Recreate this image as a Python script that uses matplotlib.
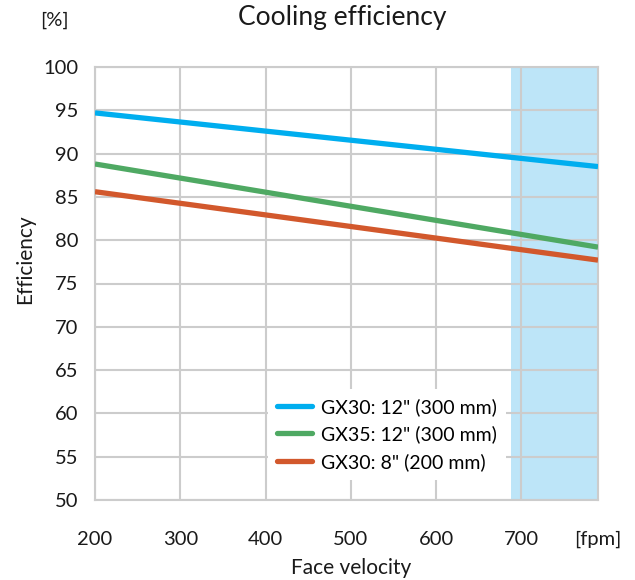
import matplotlib
matplotlib.use("Agg")
import matplotlib.pyplot as plt

# Data
x_vals = [200, 790]
gx30_12 = [94.7, 88.5]
gx35_12 = [88.8, 79.2]
gx30_8 = [85.6, 77.7]
series_labels = ['GX30: 12" (300 mm)', 'GX35: 12" (300 mm)', 'GX30: 8" (200 mm)']
colors = ['#00AEEF', '#4FA963', '#D2582C']
x_ticks = [200, 300, 400, 500, 600, 700]
y_ticks = [50, 55, 60, 65, 70, 75, 80, 85, 90, 95, 100]
shade_range = [688, 790]

plt.rcParams['font.family'] = ['Lato', 'DejaVu Sans']
TXT = '#1a1a1a'

fig = plt.figure(figsize=(6.35, 5.8), dpi=100)
ax = fig.add_axes([95/635, 1-500/580, (598-95)/635, (500-67)/580])

ax.axvspan(shade_range[0], shade_range[1], color='#BDE5F8', zorder=0, lw=0)

for ys, lab, c in zip([gx30_12, gx35_12, gx30_8], series_labels, colors):
    ax.plot(x_vals, ys, color=c, lw=3.8, label=lab, solid_capstyle='butt', zorder=3)

ax.set_xlim(200, 790)
ax.set_ylim(50, 100)
ax.set_xticks(x_ticks + [790])
ax.set_xticklabels([str(t) for t in x_ticks] + ['[fpm]'])
ax.set_yticks(y_ticks)
ax.grid(True, color='#CCCCCC', lw=1.5, zorder=1)
ax.set_axisbelow(True)
ax.get_xgridlines()[-1].set_visible(False)

for s in ax.spines.values():
    s.set_color('#CCCCCC')
    s.set_linewidth(1.5)

ax.tick_params(axis='both', length=0, labelsize=14.5, colors=TXT)
ax.tick_params(axis='x', pad=22)
ax.tick_params(axis='y', pad=12)

fig.text(351/635, 1-568/580, 'Face velocity', fontsize=15, ha='center', va='center', color=TXT)
fig.text(25/635, 1-259/580, 'Efficiency', fontsize=15, ha='center', va='center',
         rotation=90, color=TXT)
fig.text(342/635, 1-18/580, 'Cooling efficiency', fontsize=19, ha='center', va='center', color=TXT)
fig.text(54/635, 1-20/580, '[%]', fontsize=14.5, ha='center', va='center', color=TXT)

leg = ax.legend(loc='upper left', bbox_to_anchor=((268-95)/503, (500-389)/433),
                borderaxespad=0,
                frameon=True, fancybox=False, fontsize=14, handlelength=1.8,
                handletextpad=0.5, labelspacing=0.5, borderpad=0.45,
                edgecolor='none', facecolor='white', framealpha=1)
for h in leg.get_lines():
    h.set_linewidth(3.8)
    h.set_solid_capstyle('round')
leg.set_zorder(5)

fig.savefig('out.png', dpi=100)
